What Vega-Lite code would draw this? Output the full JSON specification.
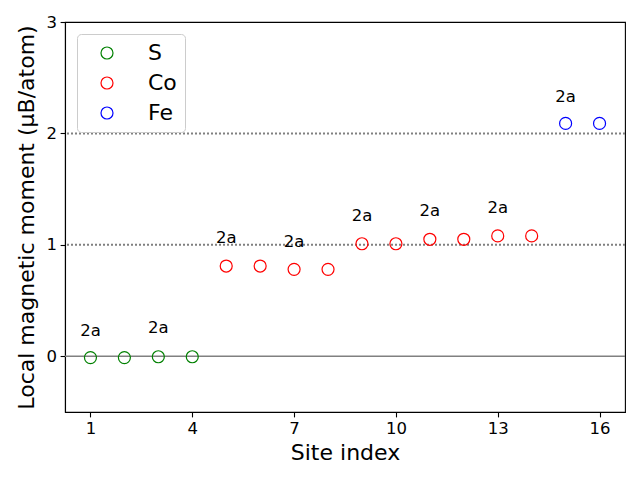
{
  "$schema": "https://vega.github.io/schema/vega-lite/v6.json",
  "width": 560,
  "height": 390,
  "autosize": "none",
  "padding": {"left": 65, "top": 22, "right": 15, "bottom": 68},
  "background": "white",
  "config": {
    "font": "DejaVu Sans",
    "view": {"stroke": "black", "strokeWidth": 1.1},
    "axis": {
      "grid": false,
      "domainColor": "black",
      "domainWidth": 1.1,
      "tickColor": "black",
      "tickWidth": 1.1,
      "tickSize": 4.9,
      "labelPadding": 3.5,
      "labelFontSize": 16.5,
      "labelColor": "black",
      "titleFontSize": 22,
      "titleFontWeight": "normal",
      "titleColor": "black",
      "labelFont": "DejaVu Sans",
      "titleFont": "DejaVu Sans"
    }
  },
  "datasets": {
    "pts": [
      {"site": 1, "element": "S", "moment": -0.012},
      {"site": 2, "element": "S", "moment": -0.012},
      {"site": 3, "element": "S", "moment": -0.004},
      {"site": 4, "element": "S", "moment": -0.004},
      {"site": 5, "element": "Co", "moment": 0.81},
      {"site": 6, "element": "Co", "moment": 0.81},
      {"site": 7, "element": "Co", "moment": 0.78},
      {"site": 8, "element": "Co", "moment": 0.78},
      {"site": 9, "element": "Co", "moment": 1.01},
      {"site": 10, "element": "Co", "moment": 1.01},
      {"site": 11, "element": "Co", "moment": 1.05},
      {"site": 12, "element": "Co", "moment": 1.05},
      {"site": 13, "element": "Co", "moment": 1.08},
      {"site": 14, "element": "Co", "moment": 1.08},
      {"site": 15, "element": "Fe", "moment": 2.09},
      {"site": 16, "element": "Fe", "moment": 2.09}
    ],
    "labels": [
      {"site": 1, "y": 0.23, "text": "2a"},
      {"site": 3, "y": 0.25, "text": "2a"},
      {"site": 5, "y": 1.06, "text": "2a"},
      {"site": 7, "y": 1.03, "text": "2a"},
      {"site": 9, "y": 1.26, "text": "2a"},
      {"site": 11, "y": 1.30, "text": "2a"},
      {"site": 13, "y": 1.33, "text": "2a"},
      {"site": 15, "y": 2.33, "text": "2a"}
    ],
    "hlines": [
      {"y": 0, "kind": "solid"},
      {"y": 1, "kind": "dotted"},
      {"y": 2, "kind": "dotted"}
    ]
  },
  "layer": [
    {
      "data": {"name": "hlines"},
      "transform": [{"filter": "datum.kind == 'solid'"}],
      "mark": {"type": "rule", "color": "#808080", "strokeWidth": 1.5},
      "encoding": {
        "y": {"field": "y", "type": "quantitative", "scale": {"domain": [-0.5, 3]}}
      }
    },
    {
      "data": {"name": "hlines"},
      "transform": [{"filter": "datum.kind == 'dotted'"}],
      "mark": {"type": "rule", "color": "#808080", "strokeWidth": 2, "strokeDash": [2, 2]},
      "encoding": {
        "y": {"field": "y", "type": "quantitative"}
      }
    },
    {
      "data": {"name": "pts"},
      "mark": {"type": "point", "shape": "circle", "filled": false, "size": 144, "strokeWidth": 1.2, "opacity": 1},
      "encoding": {
        "x": {
          "field": "site", "type": "quantitative",
          "scale": {"domain": [0.25, 16.75], "nice": false, "zero": false},
          "axis": {"values": [1, 4, 7, 10, 13, 16], "format": "d", "title": "Site index", "titlePadding": 6}
        },
        "y": {
          "field": "moment", "type": "quantitative",
          "scale": {"domain": [-0.5, 3], "nice": false, "zero": false},
          "axis": {"values": [0, 1, 2, 3], "format": "d", "title": "Local magnetic moment (μB/atom)", "titlePadding": 8}
        },
        "color": {
          "field": "element", "type": "nominal",
          "scale": {"domain": ["S", "Co", "Fe"], "range": ["#008000", "#ff0000", "#0000ff"]},
          "legend": {
            "title": null,
            "orient": "none",
            "legendX": 12,
            "legendY": 12,
            "padding": 8,
            "symbolOffset": 11,
            "symbolSize": 144,
            "symbolStrokeWidth": 1.2,
            "symbolType": "circle",
            "symbolFillColor": "transparent",
            "labelOffset": 30,
            "labelFontSize": 22,
            "labelFont": "DejaVu Sans",
            "labelColor": "black",
            "rowPadding": 8,
            "strokeColor": "#cccccc",
            "fillColor": "white",
            "cornerRadius": 4
          }
        }
      }
    },
    {
      "data": {"name": "labels"},
      "mark": {"type": "text", "fontSize": 16.5, "font": "DejaVu Sans", "color": "black", "align": "center", "baseline": "middle"},
      "encoding": {
        "x": {"field": "site", "type": "quantitative"},
        "y": {"field": "y", "type": "quantitative"},
        "text": {"field": "text"}
      }
    }
  ]
}
